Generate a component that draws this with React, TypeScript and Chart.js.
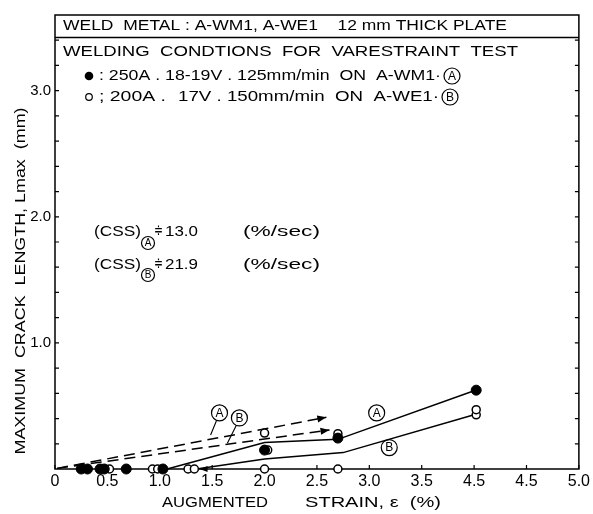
import { useEffect, useRef } from "react";
import { Chart, registerables } from "chart.js";

Chart.register(...registerables);

// ---- data ----
const xTickLabels = ["0", "0.5", "1.0", "1.5", "2.0", "2.5", "3.0", "3.5", "4.5", "4.5", "5.0"];
const yLabelValues = [1, 2, 3];

// filled points : 250A, A-WM1 (A)
const filledX = [0.25, 0.31, 0.43, 0.47, 0.68, 1.03, 2.0, 2.7, 4.02];
const filledY = [0, 0, 0, 0, 0, 0, 0.15, 0.245, 0.625];

// open points : 200A, A-WE1 (B)
const openX = [0.52, 0.93, 0.98, 1.27, 1.33, 2.0, 2.03, 2.7, 2.0, 2.7, 4.02, 4.02];
const openY = [0, 0, 0, 0, 0, 0.285, 0.15, 0.28, 0, 0, 0.43, 0.47];

// solid trend lines
const lineAX = [1.07, 2.0, 2.7, 4.0];
const lineAY = [0, 0.21, 0.235, 0.62];
const lineBX = [1.35, 2.0, 2.75, 4.0];
const lineBY = [0, 0.08, 0.13, 0.43];

// dashed arrows
const dashAX = [0.02, 2.59];
const dashAY = [0.005, 0.41];
const dashBX = [0.02, 2.62];
const dashBY = [0.005, 0.31];

const FONT = '"Liberation Sans", "DejaVu Sans", Arial, sans-serif';

const pts = (xs: number[], ys: number[]) => xs.map((x, i) => ({ x, y: ys[i] }));

function drawFit(ctx: CanvasRenderingContext2D, text: string, x: number, y: number, w: number, size: number) {
  ctx.save();
  ctx.font = `${size}px ${FONT}`;
  const m = ctx.measureText(text).width;
  ctx.translate(x, y);
  ctx.scale(w / m, 1);
  ctx.textAlign = "left";
  ctx.textBaseline = "middle";
  ctx.fillStyle = "#000";
  ctx.fillText(text, 0, 0);
  ctx.restore();
}

function circled(ctx: CanvasRenderingContext2D, letter: string, cx: number, cy: number, r: number, size: number) {
  ctx.save();
  ctx.beginPath();
  ctx.arc(cx, cy, r, 0, Math.PI * 2);
  ctx.lineWidth = 1.2;
  ctx.strokeStyle = "#000";
  ctx.stroke();
  ctx.font = `${size}px ${FONT}`;
  ctx.textAlign = "center";
  ctx.textBaseline = "middle";
  ctx.fillStyle = "#000";
  ctx.fillText(letter, cx, cy + 0.5);
  ctx.restore();
}

function arrowHead(ctx: CanvasRenderingContext2D, x1: number, y1: number, x2: number, y2: number, len = 9, half = 3.5) {
  const a = Math.atan2(y2 - y1, x2 - x1);
  ctx.save();
  ctx.translate(x2, y2);
  ctx.rotate(a);
  ctx.beginPath();
  ctx.moveTo(0, 0);
  ctx.lineTo(-len, -half);
  ctx.lineTo(-len, half);
  ctx.closePath();
  ctx.fillStyle = "#000";
  ctx.fill();
  ctx.restore();
}

const framePlugin = {
  id: "frame",
  beforeDatasetsDraw(chart: any) {
    const { ctx, chartArea: ca, scales } = chart;
    const xs = scales.x;
    const ys = scales.y;
    ctx.save();
    ctx.strokeStyle = "#000";
    ctx.lineWidth = 1.5;
    ctx.strokeRect(ca.left, ca.top, ca.right - ca.left, ca.bottom - ca.top);
    // header separator
    ctx.beginPath();
    ctx.moveTo(ca.left, ca.top + 22.5);
    ctx.lineTo(ca.right, ca.top + 22.5);
    ctx.stroke();
    // ticks (inward)
    ctx.lineWidth = 1.2;
    ys.ticks.forEach((t: any) => {
      const py = ys.getPixelForValue(t.value);
      if (py < ca.top + 25 || t.value === 0) return;
      ctx.beginPath();
      ctx.moveTo(ca.left, py);
      ctx.lineTo(ca.left + 4, py);
      ctx.moveTo(ca.right, py);
      ctx.lineTo(ca.right - 4, py);
      ctx.stroke();
    });
    xs.ticks.forEach((t: any) => {
      const px = xs.getPixelForValue(t.value);
      ctx.beginPath();
      ctx.moveTo(px, ca.bottom);
      ctx.lineTo(px, ca.bottom - 4);
      ctx.stroke();
    });
    ctx.restore();
  },
  afterDatasetsDraw(chart: any) {
    const { ctx, scales } = chart;
    const xs = scales.x;
    const ys = scales.y;
    const X = (v: number) => xs.getPixelForValue(v);
    const Y = (v: number) => ys.getPixelForValue(v);
    ctx.save();
    // arrowheads on dashed lines
    arrowHead(ctx, X(dashAX[0]), Y(dashAY[0]), X(dashAX[1]), Y(dashAY[1]));
    arrowHead(ctx, X(dashBX[0]), Y(dashBY[0]), X(dashBX[1]), Y(dashBY[1]));
    // arrow along baseline toward 1.35
    arrowHead(ctx, X(2.0), Y(0), X(1.38), Y(0), 8, 3);

    // circled labels near the lines
    circled(ctx, "A", X(1.57), Y(0.445), 8, 12);
    circled(ctx, "B", X(1.76), Y(0.405), 8, 12);
    ctx.strokeStyle = "#000";
    ctx.lineWidth = 1.1;
    ctx.beginPath();
    ctx.moveTo(X(1.54), Y(0.38));
    ctx.lineTo(X(1.485), Y(0.27));
    ctx.moveTo(X(1.73), Y(0.345));
    ctx.lineTo(X(1.645), Y(0.205));
    ctx.stroke();
    circled(ctx, "A", X(3.07), Y(0.445), 8, 12);
    circled(ctx, "B", X(3.19), Y(0.17), 8, 12);

    // header texts
    drawFit(ctx, "WELD  METAL : A-WM1, A-WE1    12 mm THICK PLATE", 63, 26, 444, 15);
    drawFit(ctx, "WELDING  CONDTIONS  FOR  VARESTRAINT  TEST", 63, 52, 455, 15);
    ctx.beginPath();
    ctx.arc(89, 76, 4.3, 0, Math.PI * 2);
    ctx.fillStyle = "#000";
    ctx.fill();
    drawFit(ctx, ": 250A . 18-19V . 125mm/min  ON  A-WM1·", 99, 76, 342, 14);
    circled(ctx, "A", 452, 76, 8, 12);
    ctx.beginPath();
    ctx.arc(89, 97, 3.3, 0, Math.PI * 2);
    ctx.lineWidth = 1.2;
    ctx.stroke();
    drawFit(ctx, "; 200A .", 99, 97, 67, 14);
    drawFit(ctx, "17V . 150mm/min  ON  A-WE1·", 178, 97, 261, 14);
    circled(ctx, "B", 450, 97, 8, 12);

    // CSS texts
    drawFit(ctx, "(CSS)", 94, 232, 47, 15);
    circled(ctx, "A", 148, 243, 6.5, 10);
    drawFit(ctx, "≑", 154, 231, 9, 15);
    drawFit(ctx, "13.0", 165, 232, 33, 15);
    drawFit(ctx, "(%/sec)", 243, 232, 77, 15);
    drawFit(ctx, "(CSS)", 94, 265, 47, 15);
    circled(ctx, "B", 148, 275, 6.5, 10);
    drawFit(ctx, "≑", 154, 264, 9, 15);
    drawFit(ctx, "21.9", 165, 265, 33, 15);
    drawFit(ctx, "(%/sec)", 243, 265, 77, 15);

    // axis titles
    drawFit(ctx, "AUGMENTED", 162, 503, 106, 15);
    drawFit(ctx, "STRAIN, ε  (%)", 305, 503, 136, 15);
    ctx.save();
    ctx.translate(21, 281);
    ctx.rotate(-Math.PI / 2);
    ctx.font = `15px ${FONT}`;
    const t = "MAXIMUM  CRACK  LENGTH, Lmax  (mm)";
    const m = ctx.measureText(t).width;
    ctx.scale(347 / m, 1);
    ctx.textAlign = "center";
    ctx.textBaseline = "middle";
    ctx.fillStyle = "#000";
    ctx.fillText(t, 0, 0);
    ctx.restore();
    ctx.restore();
  },
};

export default function App() {
  const ref = useRef<HTMLCanvasElement>(null);
  useEffect(() => {
    const chart = new Chart(ref.current as HTMLCanvasElement, {
      type: "scatter",
      data: {
        datasets: [
          {
            label: "A",
            data: pts(filledX, filledY),
            pointRadius: 5,
            pointBackgroundColor: "#000",
            pointBorderColor: "#000",
            pointBorderWidth: 1,
            showLine: false,
            clip: false,
            order: 0,
          },
          {
            label: "B",
            data: pts(openX, openY),
            pointRadius: 4,
            pointBackgroundColor: "#fff",
            pointBorderColor: "#000",
            pointBorderWidth: 1.5,
            showLine: false,
            clip: false,
            order: 0,
          },
          {
            label: "line A",
            data: pts(lineAX, lineAY),
            showLine: true,
            pointRadius: 0,
            borderColor: "#000",
            borderWidth: 1.5,
            clip: false,
            order: 1,
          },
          {
            label: "line B",
            data: pts(lineBX, lineBY),
            showLine: true,
            pointRadius: 0,
            borderColor: "#000",
            borderWidth: 1.5,
            clip: false,
            order: 1,
          },
          {
            label: "dash A",
            data: pts(dashAX, dashAY),
            showLine: true,
            pointRadius: 0,
            borderColor: "#000",
            borderWidth: 1.5,
            borderDash: [11, 6],
            clip: false,
            order: 1,
          },
          {
            label: "dash B",
            data: pts(dashBX, dashBY),
            showLine: true,
            pointRadius: 0,
            borderColor: "#000",
            borderWidth: 1.5,
            borderDash: [11, 6],
            clip: false,
            order: 1,
          },
        ],
      } as any,
      options: {
        responsive: false,
        animation: false,
        devicePixelRatio: 1,
        layout: { padding: { top: 15, right: 13, left: 0, bottom: 0 } },
        plugins: { legend: { display: false }, tooltip: { enabled: false } },
        scales: {
          x: {
            type: "linear",
            min: 0,
            max: 5,
            grid: { display: false, drawTicks: false },
            border: { display: false },
            ticks: {
              stepSize: 0.5,
              autoSkip: false,
              maxRotation: 0,
              padding: 3,
              color: "#000",
              font: { family: FONT, size: 16 },
              callback: (v: any) => xTickLabels[Math.round(Number(v) * 2)] ?? "",
            },
            afterFit: (s: any) => {
              s.height = 45;
            },
          },
          y: {
            type: "linear",
            min: 0,
            max: 3.6,
            grid: { display: false, drawTicks: false },
            border: { display: false },
            ticks: {
              stepSize: 0.2,
              autoSkip: false,
              padding: 4,
              color: "#000",
              font: { family: FONT, size: 15 },
              callback: (v: any) => {
                const n = Number(v);
                const hit = yLabelValues.find((l) => Math.abs(l - n) < 1e-6);
                return hit !== undefined ? hit.toFixed(1) : "";
              },
            },
            afterFit: (s: any) => {
              s.width = 55;
            },
          },
        },
      } as any,
      plugins: [framePlugin],
    });
    return () => chart.destroy();
  }, []);
  return (
    <div style={{ position: "absolute", left: 0, top: 0, width: 593, height: 514, background: "#fff" }}>
      <canvas ref={ref} width={593} height={514} style={{ width: 593, height: 514, display: "block" }} />
    </div>
  );
}
